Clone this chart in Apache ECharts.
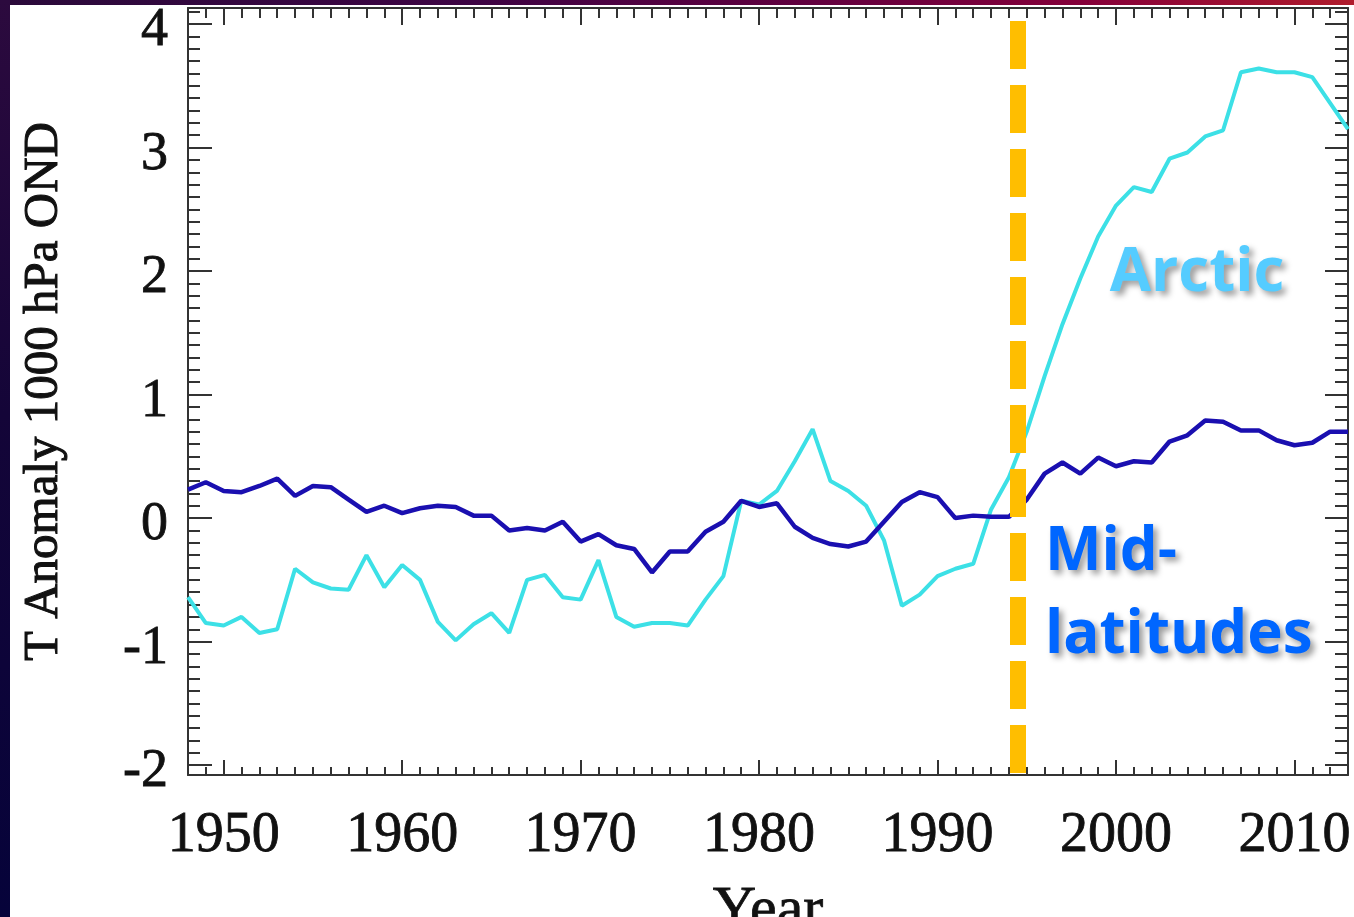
<!DOCTYPE html>
<html>
<head>
<meta charset="utf-8">
<script src="https://cdn.jsdelivr.net/npm/echarts@6/dist/echarts.min.js"></script>
<style>
html,body{margin:0;padding:0;width:1354px;height:917px;overflow:hidden;}
#frame{position:absolute;left:0;top:0;width:1354px;height:917px;
  background:linear-gradient(to right,#2a0a3a 0%,#3e0444 35%,#62003f 60%,#85003a 80%,#b01c2c 100%);}
#leftbar{position:absolute;left:0;top:0;width:10px;height:917px;
  background:linear-gradient(to bottom,#2c0a3e 0%,#140538 45%,#06033a 100%);}
#paper{position:absolute;left:10px;top:5px;right:0;bottom:0;background:#ffffff;}
#chart{position:absolute;left:0;top:0;width:1354px;height:917px;}
</style>
</head>
<body>
<div id="frame"></div>
<div id="leftbar"></div>
<div id="paper"></div>
<div id="chart"></div>
<script>
// ---- data ----
const years = [1948,1949,1950,1951,1952,1953,1954,1955,1956,1957,1958,1959,
  1960,1961,1962,1963,1964,1965,1966,1967,1968,1969,
  1970,1971,1972,1973,1974,1975,1976,1977,1978,1979,
  1980,1981,1982,1983,1984,1985,1986,1987,1988,1989,
  1990,1991,1992,1993,1994,1995,1996,1997,1998,1999,
  2000,2001,2002,2003,2004,2005,2006,2007,2008,2009,
  2010,2011,2012,2013];

const arctic = [-0.64,-0.85,-0.87,-0.80,-0.93,-0.90,-0.41,-0.52,-0.57,-0.58,-0.30,-0.56,
  -0.38,-0.50,-0.84,-0.99,-0.86,-0.77,-0.93,-0.50,-0.46,-0.64,
  -0.66,-0.34,-0.80,-0.88,-0.85,-0.85,-0.87,-0.66,-0.47,0.14,
  0.11,0.22,0.46,0.72,0.30,0.22,0.10,-0.18,-0.71,-0.62,
  -0.47,-0.41,-0.37,0.07,0.33,0.70,1.15,1.57,1.94,2.28,
  2.53,2.68,2.64,2.91,2.96,3.09,3.14,3.61,3.64,3.61,
  3.61,3.57,3.36,3.15];

const midLatitudes = [0.23,0.29,0.22,0.21,0.26,0.32,0.18,0.26,0.25,0.15,0.05,0.10,
  0.04,0.08,0.10,0.09,0.02,0.02,-0.10,-0.08,-0.10,-0.03,
  -0.19,-0.13,-0.22,-0.25,-0.44,-0.27,-0.27,-0.11,-0.03,0.14,
  0.09,0.12,-0.07,-0.16,-0.21,-0.23,-0.19,-0.03,0.13,0.21,
  0.17,0.00,0.02,0.01,0.01,0.15,0.36,0.45,0.36,0.49,
  0.42,0.46,0.45,0.62,0.67,0.79,0.78,0.71,0.71,0.63,
  0.59,0.61,0.70,0.70];

const dividerYear = 1994.5;
const dividerRange = [4.024, -2.065];

const xRange = [1948, 2013];
const yRange = [-2.08, 4.13];

const yTitle = 'T Anomaly 1000 hPa OND';
const xTitle = 'Year';

const annotations = [
  {text: 'Arctic', at: [2004.54, 1.975], align: 'center', color: '#55CCFF'},
  {text: 'Mid-', at: [1996.02, -0.285], align: 'left', color: '#0066FF'},
  {text: 'latitudes', at: [1996.02, -0.955], align: 'left', color: '#0066FF'}
];

// ---- chart ----
const axisColor = '#333333';
const serif = '"Liberation Serif", "Times New Roman", serif';

function xAxisDef(pos, showLabels, major, minor) {
  return {
    type: 'value', position: pos, min: xRange[0], max: xRange[1],
    splitNumber: 6, minInterval: 10, maxInterval: 10,
    axisLine: {show: true, onZero: false, lineStyle: {color: axisColor, width: 2}},
    axisTick: {show: true, inside: true, length: major, lineStyle: {color: axisColor, width: 2}},
    minorTick: {show: true, splitNumber: 10, length: minor, lineStyle: {color: axisColor, width: 2}},
    splitLine: {show: false}, minorSplitLine: {show: false},
    axisLabel: showLabels ? {
      show: true, showMinLabel: false, showMaxLabel: false, margin: 33,
      fontFamily: serif, fontSize: 56, color: '#111',
      textBorderColor: '#111', textBorderWidth: 0.8,
      formatter: v => String(Math.round(v))
    } : {show: false},
    name: showLabels ? xTitle : '',
    nameLocation: 'middle', nameGap: 106,
    nameTextStyle: {fontFamily: serif, fontSize: 60, color: '#111', textBorderColor: '#111', textBorderWidth: 0.8}
  };
}
function yAxisDef(pos, showLabels, major, minor) {
  return {
    type: 'value', position: pos, min: yRange[0], max: yRange[1],
    splitNumber: 6, minInterval: 1, maxInterval: 1,
    axisLine: {show: true, onZero: false, lineStyle: {color: axisColor, width: 2}},
    axisTick: {show: true, inside: true, length: major, lineStyle: {color: axisColor, width: 2}},
    minorTick: {show: true, splitNumber: 10, length: minor, lineStyle: {color: axisColor, width: 2}},
    splitLine: {show: false}, minorSplitLine: {show: false},
    axisLabel: showLabels ? {
      show: true, showMinLabel: false, showMaxLabel: false, margin: 20,
      formatter: v => '{n|' + Math.round(v) + '}',
      rich: {n: {fontFamily: serif, fontSize: 54, color: '#111', padding: [14, 0, 0, 0],
                 textBorderColor: '#111', textBorderWidth: 0.8}}
    } : {show: false},
    name: showLabels ? yTitle : '',
    nameLocation: 'middle', nameGap: 119, nameRotate: 90,
    nameTextStyle: {fontFamily: serif, fontSize: 49, color: '#111', textBorderColor: '#111', textBorderWidth: 1}
  };
}

const chart = echarts.init(document.getElementById('chart'), null, {renderer: 'canvas'});
const option = {
  animation: false,
  backgroundColor: 'transparent',
  grid: {left: 188, right: 6, top: 8, bottom: 142, containLabel: false, outerBoundsMode: 'none', show: false},
  xAxis: [xAxisDef('bottom', true, 15, 8), xAxisDef('top', false, 17, 10)],
  yAxis: [yAxisDef('left', true, 24, 12), yAxisDef('right', false, 23, 13)],
  series: [
    {
      name: 'Arctic', type: 'line', xAxisIndex: 0, yAxisIndex: 0,
      data: years.map((y, i) => [y, arctic[i]]),
      symbol: 'none', lineStyle: {color: '#3ce0e6', width: 4}, z: 2,
      emphasis: {disabled: true}
    },
    {
      name: 'Mid-latitudes', type: 'line', xAxisIndex: 0, yAxisIndex: 0,
      data: years.map((y, i) => [y, midLatitudes[i]]),
      symbol: 'none', lineStyle: {color: '#1a0fb0', width: 4.5}, z: 3,
      emphasis: {disabled: true}
    },
    {
      name: 'divider', type: 'line', xAxisIndex: 0, yAxisIndex: 0, data: [], z: 5,
      markLine: {
        silent: true, symbol: ['none', 'none'], label: {show: false},
        lineStyle: {color: '#FFBE00', width: 16, type: [48, 16], opacity: 1},
        emphasis: {disabled: true},
        data: [[{coord: [dividerYear, dividerRange[0]]}, {coord: [dividerYear, dividerRange[1]]}]]
      }
    }
  ]
};
chart.setOption(option);

const graphics = annotations.map(a => {
  const p = chart.convertToPixel({xAxisIndex: 0, yAxisIndex: 0}, a.at);
  return {
    type: 'text', x: p[0], y: p[1], z: 100,
    style: {
      text: a.text, fill: a.color, align: a.align, verticalAlign: 'middle',
      font: 'bold 60px "Comic Sans MS", "Open Sans", "Noto Sans", sans-serif',
      textShadowColor: 'rgba(0,0,0,0.4)', textShadowBlur: 6,
      textShadowOffsetX: 4, textShadowOffsetY: 4
    }
  };
});
chart.setOption({graphic: graphics});
</script>
</body>
</html>
